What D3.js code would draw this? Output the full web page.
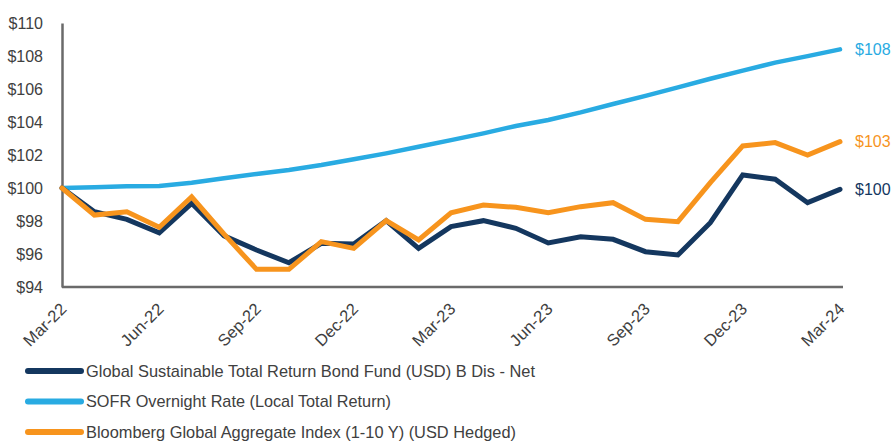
<!DOCTYPE html>
<html>
<head>
<meta charset="utf-8">
<script src="https://cdn.jsdelivr.net/npm/d3@7"></script>
<style>
  html, body { margin: 0; padding: 0; background: #fff; }
  svg { display: block; }
  text { font-family: "Liberation Sans Narrow", "Arial Narrow", "Liberation Sans", sans-serif; }
</style>
</head>
<body>
<svg id="chart" width="892" height="441"></svg>
<script>
// Growth of $100, monthly, Mar-22 to Mar-24
const months = ["Mar-22","Apr-22","May-22","Jun-22","Jul-22","Aug-22","Sep-22","Oct-22","Nov-22","Dec-22",
  "Jan-23","Feb-23","Mar-23","Apr-23","May-23","Jun-23","Jul-23","Aug-23","Sep-23","Oct-23","Nov-23",
  "Dec-23","Jan-24","Feb-24","Mar-24"];
const tickMonths = ["Mar-22","Jun-22","Sep-22","Dec-22","Mar-23","Jun-23","Sep-23","Dec-23","Mar-24"];
const fundValues = [100.0, 98.56, 98.10, 97.29, 99.07, 97.10, 96.24, 95.47, 96.65, 96.60,
  98.02, 96.34, 97.66, 98.02, 97.56, 96.67, 97.05, 96.89, 96.14, 95.94, 97.90,
  100.79, 100.53, 99.11, 99.92];
const sofrValues = [100.0, 100.04, 100.10, 100.12, 100.32, 100.59, 100.85, 101.09, 101.39, 101.74,
  102.10, 102.50, 102.90, 103.31, 103.76, 104.12, 104.58, 105.09, 105.58, 106.10, 106.62,
  107.11, 107.60, 107.99, 108.40];
const aggValues = [100.0, 98.36, 98.56, 97.62, 99.47, 97.20, 95.07, 95.07, 96.75, 96.34,
  98.02, 96.85, 98.50, 98.97, 98.83, 98.50, 98.87, 99.11, 98.10, 97.96, 100.32,
  102.55, 102.75, 102.00, 102.81];
const yTicks = [94, 96, 98, 100, 102, 104, 106, 108, 110];
const endLabels = ["$100", "$108", "$103"];
const seriesNames = [
  "Global Sustainable Total Return Bond Fund (USD) B Dis - Net",
  "SOFR Overnight Rate (Local Total Return)",
  "Bloomberg Global Aggregate Index (1-10 Y) (USD Hedged)"
];
const colors = ["#14375f", "#29abe2", "#f7941d"];

const series = [
  { name: seriesNames[0], values: fundValues, color: colors[0], width: 5, label: endLabels[0], legendWidth: 449 },
  { name: seriesNames[1], values: sofrValues, color: colors[1], width: 4.5, label: endLabels[1], legendWidth: 305 },
  { name: seriesNames[2], values: aggValues, color: colors[2], width: 5, label: endLabels[2], legendWidth: 430 }
];

const svg = d3.select("#chart");
const plotLeft = 62, plotRight = 840, plotTop = 23, plotBottom = 287;

const x = d3.scalePoint().domain(months).range([plotLeft, plotRight]);
const y = d3.scaleLinear().domain([94, 110]).range([plotBottom, plotTop]);

// Axes
const yAxis = svg.append("g").attr("transform", `translate(${plotLeft},0)`)
  .call(d3.axisLeft(y).tickValues(yTicks).tickSize(0).tickPadding(19).tickFormat(d => "$" + d));
yAxis.select(".domain").attr("stroke", "#6a6a6a").attr("stroke-width", 2.5);
yAxis.selectAll("text").attr("font-size", 16).attr("fill", "#404040");

const xAxis = svg.append("g").attr("transform", `translate(0,${plotBottom})`)
  .call(d3.axisBottom(x).tickValues(tickMonths).tickSize(0).tickPadding(0));
xAxis.select(".domain").attr("stroke", "#6a6a6a").attr("stroke-width", 2.5).attr("d", `M${plotLeft},0H${plotRight + 3}`);
xAxis.selectAll("text")
  .attr("font-size", 16.5).attr("fill", "#404040")
  .attr("text-anchor", "end").attr("dy", "0")
  .attr("textLength", 53).attr("lengthAdjust", "spacingAndGlyphs")
  .attr("transform", "translate(5,23) rotate(-45)");

// Lines
const line = d3.line().x((d, i) => x(months[i])).y(d => y(d));
const drawOrder = [series[1], series[0], series[2]];
svg.append("g").selectAll("path").data(drawOrder).join("path")
  .attr("d", d => line(d.values))
  .attr("fill", "none")
  .attr("stroke", d => d.color)
  .attr("stroke-width", d => d.width)
  .attr("stroke-linejoin", "miter")
  .attr("stroke-linecap", "round");

// End-value labels
svg.append("g").selectAll("text").data(series).join("text")
  .attr("x", plotRight + 15)
  .attr("y", d => y(d.values[d.values.length - 1]))
  .attr("dy", "0.35em")
  .attr("font-size", 16)
  .attr("fill", d => d.color)
  .text(d => d.label);

// Legend
const legend = svg.append("g").selectAll("g").data(series).join("g")
  .attr("transform", (d, i) => `translate(0,${371 + i * 30.5})`);
legend.append("line")
  .attr("x1", 28).attr("x2", 81)
  .attr("stroke", d => d.color).attr("stroke-width", 6).attr("stroke-linecap", "round");
legend.append("text")
  .attr("x", 86).attr("dy", "0.35em")
  .attr("font-size", 17).attr("fill", "#404040")
  .attr("textLength", d => d.legendWidth).attr("lengthAdjust", "spacingAndGlyphs")
  .text(d => d.name);
</script>
</body>
</html>
